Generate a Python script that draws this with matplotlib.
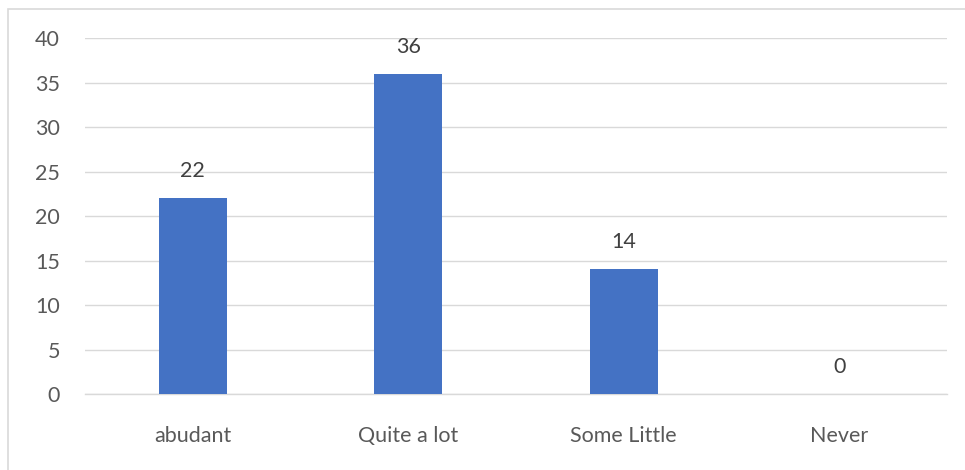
import matplotlib.pyplot as plt
from matplotlib.patches import Rectangle

categories = ["abudant", "Quite a lot", "Some Little", "Never"]
counts = [22, 36, 14, 0]
y_ticks = [0, 5, 10, 15, 20, 25, 30, 35, 40]

plt.rcParams["font.family"] = ["Lato", "DejaVu Sans"]

fig = plt.figure(figsize=(9.65, 4.70), dpi=100)
ax = fig.add_axes([0.0881, 0.1617, 0.8932, 0.7574])

x = range(len(categories))
bars = ax.bar(x, counts, width=0.315, color="#4472C4", zorder=3)

for b, v in zip(bars, counts):
    ax.text(b.get_x() + b.get_width() / 2, v + 1.9, str(v),
            ha="center", va="bottom", fontsize=15.5, color="#404040")

ax.set_xlim(-0.5, len(categories) - 0.5)
ax.set_ylim(0, 40)
ax.set_yticks(y_ticks)
ax.set_xticks(list(x))
ax.set_xticklabels(categories)

ax.grid(axis="y", color="#D9D9D9", linewidth=1, zorder=0)
for s in ["top", "right", "left"]:
    ax.spines[s].set_visible(False)
ax.spines["bottom"].set_color("#D9D9D9")
ax.spines["bottom"].set_linewidth(1)
ax.tick_params(length=0, labelsize=15.5, colors="#595959")
ax.tick_params(axis="x", pad=23)
ax.tick_params(axis="y", pad=18)

# chart area outline
fig.patches.append(Rectangle((8 / 965, -0.1), 1.2, 1.1 - 9 / 470,
                             transform=fig.transFigure, fill=False,
                             edgecolor="#D9D9D9", linewidth=1.2))

fig.savefig("out.png", dpi=100)
